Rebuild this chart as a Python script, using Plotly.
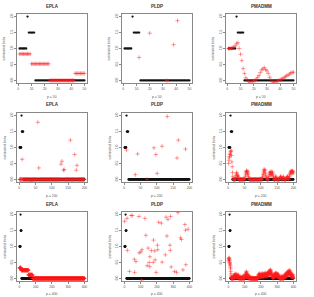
import plotly.graph_objects as go

# ---------------- data ----------------
methods = ["EPLA", "PLDP", "PMADMM"]
p_values = [50, 200, 400]
y_ticks = [0.0, 0.5, 1.0, 1.5, 2.0]
x_ticks = {50: [0, 10, 20, 30, 40, 50], 200: [0, 50, 100, 150, 200], 400: [0, 100, 200, 300, 400]}

# true coefficients (non-zero head, zeros elsewhere)
true_head = [1.0, 1.0, 1.0, 1.0, 1.0, 1.0, 2.0, 1.5, 1.5, 1.5, 1.5, 1.5]

# EPLA, p = 50
epla_50 = [0.83] * 9 + [0.52] * 14 + [0.0] * 19 + [0.22] * 8

# PLDP, p = 50 (only points inside the plotted range)
pldp_50_idx = [12, 20, 33, 38, 41]
pldp_50_val = [0.72, 1.48, 0.00, 1.12, 1.87]

# PMADMM, p = 50
pmadmm_50 = [1.00, 1.00, 1.01, 1.02, 1.05, 1.08, 1.15, 1.18, 1.00, 0.82,
             0.62, 0.37, 0.22, 0.08, 0.02, -0.03, -0.05, -0.04, -0.03, -0.02,
             0.00, 0.04, 0.10, 0.16, 0.25, 0.33, 0.36, 0.40, 0.34, 0.30,
             0.22, 0.10, 0.02, -0.04, -0.05, -0.05, -0.03, -0.02, 0.00, 0.02,
             0.04, 0.06, 0.09, 0.12, 0.15, 0.17, 0.20, 0.23, 0.25, 0.26]

# EPLA, p = 200 (non-zero estimates; all others are 0)
epla_200_idx = [9, 37, 57, 60, 128, 131, 136, 138, 157, 170, 175, 177]
epla_200_val = [0.63, -0.05, 1.79, 0.36, 0.48, 0.57, 0.29, 0.31, 1.23, 0.78, 0.29, 0.44]

# PLDP, p = 200 (only points inside the plotted range)
pldp_200_idx = [7, 34, 41, 70, 91, 97, 101, 116, 132, 162, 166, 188]
pldp_200_val = [0.92, 0.15, 0.80, 0.01, 0.99, 0.78, 0.19, 1.04, 1.97, 0.67, 1.23, 0.95]

# PMADMM, p = 200
pmadmm_200 = [
    0.50, 0.60, 0.68, 0.72, 0.78, 0.80, 0.86, 0.88, 0.90, 0.75, 0.55, 0.40, 0.22, 0.10, 0.04, 0.00, -0.02, 0.00, 0.01, 0.00,
    0.00, 0.02, 0.06, 0.12, 0.18, 0.22, 0.16, 0.10, 0.05, 0.12, 0.08, 0.03, 0.00, -0.02, 0.00, 0.00, 0.00, 0.00, 0.01, 0.00,
    0.00, 0.00, 0.00, 0.00, 0.00, 0.02, 0.00, 0.00, 0.00, 0.00, 0.03, 0.08, 0.14, 0.20, 0.25, 0.28, 0.24, 0.22, 0.15, 0.26,
    0.18, 0.10, 0.05, 0.02, 0.00, 0.00, -0.01, 0.00, 0.00, 0.00, 0.00, 0.00, 0.00, 0.00, 0.00, 0.00, 0.00, 0.00, 0.00, 0.00,
    0.00, 0.00, 0.00, 0.01, 0.00, 0.00, 0.00, 0.00, 0.00, 0.00, 0.00, 0.00, 0.00, 0.00, 0.00, 0.00, 0.02, 0.00, 0.00, 0.00,
    0.00, 0.00, 0.00, 0.03, 0.06, 0.10, 0.15, 0.20, 0.26, 0.32, 0.28, 0.22, 0.30, 0.18, 0.12, 0.08, 0.05, 0.03, 0.00, 0.00,
    0.00, 0.00, 0.02, 0.05, 0.10, 0.15, 0.20, 0.24, 0.20, 0.15, 0.22, 0.25, 0.18, 0.12, 0.20, 0.23, 0.15, 0.08, 0.04, 0.00,
    0.00, -0.02, 0.00, 0.03, 0.07, 0.10, 0.06, 0.02, 0.00, 0.00, 0.00, 0.00, 0.00, 0.00, 0.00, 0.00, 0.00, 0.02, 0.05, 0.08,
    0.10, 0.07, 0.04, 0.02, 0.00, 0.00, 0.03, 0.06, 0.09, 0.05, 0.02, 0.00, 0.00, 0.00, 0.00, 0.00, 0.00, 0.02, 0.04, 0.06,
    0.08, 0.10, 0.07, 0.04, 0.02, 0.00, 0.05, 0.10, 0.15, 0.18, 0.21, 0.24, 0.26, 0.27, 0.22, 0.18, 0.25, 0.27, 0.24, 0.20]

# EPLA, p = 400
epla_400 = [0.33] * 10 + [0.26] * 45 + [0.11] * 25 + [0.0] * 320

# PLDP, p = 400 (only points inside the plotted range)
pldp_400_idx = [1, 16, 41, 49, 89, 126, 211, 227, 256, 268, 284, 329, 372, 392, 376,
                132, 262, 179, 345, 351, 203, 280, 18, 108, 101, 91, 146, 166, 187, 205,
                282, 252, 157, 61, 71, 189, 177, 232, 152, 140, 156, 288, 378, 31, 63,
                195, 309, 321, 360, 106]
pldp_400_val = [1.79, 1.88, 1.97, 1.97, 1.94, 1.88, 1.76, 1.73, 1.92, 1.85, 1.94, 2.06, 1.69, 1.54, 1.51,
                1.35, 1.33, 1.20, 1.27, 1.22, 1.04, 1.04, 0.88, 0.90, 0.83, 0.80, 0.95, 0.87, 0.86, 0.90,
                0.88, 0.74, 0.68, 0.60, 0.53, 0.58, 0.50, 0.51, 0.50, 0.40, 0.37, 0.36, 0.43, 0.22, 0.19,
                0.19, 0.22, 0.19, 0.27, -0.05]

# PMADMM, p = 400
pmadmm_400 = [
    0.55, 0.60, 0.63, 0.65, 0.62, 0.58, 0.55, 0.50, 0.47, 0.44, 0.40, 0.35, 0.30, 0.22, 0.15, 0.08, 0.04, 0.02, 0.00, 0.00,
    0.00, 0.00, -0.02, 0.00, 0.03, 0.06, 0.02, 0.00, 0.00, 0.05, 0.09, 0.06, 0.03, 0.00, 0.00, 0.02, 0.06, 0.10, 0.08, 0.12,
    0.15, 0.10, 0.06, 0.12, 0.09, 0.04, 0.00, 0.03, 0.07, 0.11, 0.14, 0.08, 0.05, 0.10, 0.06, 0.03, 0.00, 0.02, 0.05, 0.09,
    0.12, 0.07, 0.04, 0.00, 0.00, 0.03, 0.06, 0.02, 0.00, 0.00, 0.00, 0.00, 0.02, 0.05, 0.03, 0.00, 0.00, 0.00, 0.00, 0.00,
    0.00, 0.00, 0.02, 0.04, 0.07, 0.05, 0.02, 0.00, 0.00, 0.00, 0.00, 0.00, 0.03, 0.06, 0.09, 0.05, 0.02, 0.00, 0.00, 0.00,
    0.02, 0.05, 0.08, 0.12, 0.10, 0.06, 0.14, 0.18, 0.12, 0.22, 0.16, 0.10, 0.20, 0.14, 0.08, 0.05, 0.12, 0.09, 0.04, 0.00,
    0.03, 0.07, 0.10, 0.05, 0.02, 0.00, 0.00, 0.04, 0.08, 0.06, 0.02, 0.00, 0.00, 0.00, 0.00, 0.00, 0.00, 0.03, 0.00, 0.00,
    0.00, 0.00, 0.00, 0.00, 0.00, 0.00, 0.02, 0.00, 0.00, 0.00, 0.00, 0.00, 0.00, 0.00, 0.00, -0.02, 0.00, 0.00, 0.00, 0.00,
    0.00, 0.00, 0.00, 0.00, 0.00, 0.00, 0.00, 0.00, 0.00, 0.00, 0.00, 0.00, 0.00, 0.00, 0.00, 0.00, 0.00, 0.00, 0.00, 0.00,
    0.00, 0.02, 0.05, 0.08, 0.12, 0.06, 0.10, 0.14, 0.09, 0.05, 0.12, 0.16, 0.10, 0.07, 0.13, 0.08, 0.04, 0.10, 0.06, 0.03,
    0.08, 0.12, 0.15, 0.09, 0.05, 0.11, 0.07, 0.03, 0.09, 0.13, 0.17, 0.10, 0.06, 0.12, 0.08, 0.04, 0.10, 0.14, 0.09, 0.05,
    0.11, 0.15, 0.10, 0.06, 0.13, 0.18, 0.12, 0.08, 0.15, 0.10, 0.06, 0.12, 0.16, 0.11, 0.07, 0.13, 0.09, 0.05, 0.10, 0.14,
    0.18, 0.12, 0.08, 0.15, 0.20, 0.14, 0.10, 0.17, 0.22, 0.16, 0.12, 0.19, 0.24, 0.18, 0.13, 0.20, 0.25, 0.28, 0.22, 0.17,
    0.26, 0.21, 0.15, 0.10, 0.18, 0.12, 0.07, 0.14, 0.09, 0.05, 0.02, 0.06, 0.10, 0.07, 0.03, 0.00, 0.04, 0.08, 0.05, 0.02,
    0.06, 0.10, 0.14, 0.09, 0.05, 0.12, 0.16, 0.11, 0.07, 0.13, 0.18, 0.12, 0.08, 0.15, 0.10, 0.06, 0.12, 0.17, 0.11, 0.07,
    0.13, 0.09, 0.05, 0.10, 0.14, 0.08, 0.04, 0.09, 0.12, 0.07, 0.03, 0.00, 0.02, 0.05, 0.03, 0.00, 0.00, 0.00, 0.02, 0.00,
    0.00, 0.00, 0.03, 0.06, 0.04, 0.00, 0.00, 0.00, 0.02, 0.05, 0.08, 0.05, 0.02, 0.00, 0.00, 0.00, 0.00, 0.03, 0.00, 0.00,
    0.02, 0.05, 0.09, 0.06, 0.03, 0.08, 0.12, 0.07, 0.04, 0.10, 0.14, 0.09, 0.05, 0.11, 0.16, 0.10, 0.06, 0.13, 0.18, 0.12,
    0.08, 0.15, 0.20, 0.14, 0.10, 0.17, 0.22, 0.15, 0.11, 0.18, 0.24, 0.17, 0.12, 0.20, 0.26, 0.19, 0.14, 0.21, 0.25, 0.18,
    0.13, 0.20, 0.16, 0.10, 0.06, 0.12, 0.08, 0.04, 0.10, 0.14, 0.09, 0.05, 0.11, 0.07, 0.03, 0.08, 0.12, 0.06, 0.02, 0.00]


def sparse_to_full(p, idx, val):
    out = [0.0] * p
    for i, v in zip(idx, val):
        out[i - 1] = v
    return out


def truth(p):
    return true_head + [0.0] * (p - len(true_head))


# estimates per (row, col): (x list, y list)
estimates = {
    (0, 0): (list(range(1, 51)), epla_50),
    (0, 1): (pldp_50_idx, pldp_50_val),
    (0, 2): (list(range(1, 51)), pmadmm_50),
    (1, 0): (list(range(1, 201)), sparse_to_full(200, epla_200_idx, epla_200_val)),
    (1, 1): (pldp_200_idx, pldp_200_val),
    (1, 2): (list(range(1, 201)), pmadmm_200),
    (2, 0): (list(range(1, 401)), epla_400),
    (2, 1): (pldp_400_idx, pldp_400_val),
    (2, 2): (list(range(1, 401)), pmadmm_400),
}

# ---------------- layout ----------------
W, H = 314, 297
col_px = [(17, 87), (122, 192), (226, 296)]
row_px = [(14, 83), (113, 182), (212, 281)]
col_off = [0, 105, 209]
title_y = [6, 104.5, 204]
xlab_y = [97, 196, 293.5]

FRAME = "#888888"
TEXT = "#555555"
FONT = "Liberation Sans, Arial, sans-serif"
RED = "rgba(255,30,30,0.75)"

fig = go.Figure()
layout = dict(width=W, height=H, margin=dict(l=0, r=0, t=0, b=0),
              paper_bgcolor="white", plot_bgcolor="white", showlegend=False,
              font=dict(family=FONT, color=TEXT, size=4))
annotations = []

k = 0
for r, p in enumerate(p_values):
    for c, m in enumerate(methods):
        k += 1
        xa = "x" if k == 1 else f"x{k}"
        ya = "y" if k == 1 else f"y{k}"
        t = truth(p)
        fig.add_trace(go.Scatter(x=list(range(1, p + 1)), y=t, mode="markers",
                                 marker=dict(symbol="circle", size=2.3, color="#111111", line=dict(width=0)),
                                 xaxis=xa, yaxis=ya, hoverinfo="skip"))
        ex, ey = estimates[(r, c)]
        fig.add_trace(go.Scatter(x=ex, y=ey, mode="markers",
                                 marker=dict(symbol="cross-thin", size=3.0, color=RED,
                                             line=dict(width=0.6, color=RED)),
                                 xaxis=xa, yaxis=ya, hoverinfo="skip"))
        x0, x1 = col_px[c]
        y0, y1 = row_px[r]
        pad = 0.04 * (p - 1)
        axx = dict(domain=[x0 / W, x1 / W], anchor=ya, range=[1 - pad, p + pad],
                   tickmode="array", tickvals=x_ticks[p], ticktext=[str(v) for v in x_ticks[p]],
                   showgrid=False, zeroline=False, showline=True, mirror=True,
                   linecolor=FRAME, linewidth=0.8, ticks="outside", ticklen=2, tickwidth=0.6,
                   tickcolor=FRAME, tickfont=dict(size=3.3, color=TEXT, family=FONT))
        axy = dict(domain=[1 - y1 / H, 1 - y0 / H], anchor=xa, range=[-0.08, 2.08],
                   tickmode="array", tickvals=y_ticks, ticktext=[f"{v:.1f}" for v in y_ticks],
                   showgrid=False, zeroline=False, showline=True, mirror=True,
                   linecolor=FRAME, linewidth=0.8, ticks="outside", ticklen=2, tickwidth=0.6,
                   tickcolor=FRAME, tickangle=-90, tickfont=dict(size=3.3, color=TEXT, family=FONT))
        layout["xaxis" if k == 1 else f"xaxis{k}"] = axx
        layout["yaxis" if k == 1 else f"yaxis{k}"] = axy
        cx = (x0 + x1) / 2 / W
        annotations.append(dict(text=f"<b>{m}</b>", x=cx, y=1 - title_y[r] / H, xref="paper", yref="paper",
                                showarrow=False, xanchor="center", yanchor="middle",
                                font=dict(size=4.5, color="#333333", family=FONT)))
        annotations.append(dict(text=f"p = {p}", x=cx, y=1 - xlab_y[r] / H, xref="paper", yref="paper",
                                showarrow=False, xanchor="center", yanchor="middle", borderpad=0,
                                font=dict(size=3.4, color=TEXT, family=FONT)))
        annotations.append(dict(text="estimated beta", x=(col_off[c] + 4) / W, y=1 - (y0 + y1) / 2 / H,
                                xref="paper", yref="paper", textangle=-90, showarrow=False,
                                xanchor="center", yanchor="middle",
                                font=dict(size=3.6, color=TEXT, family=FONT)))

layout["annotations"] = annotations
fig.update_layout(**layout)
fig.write_html("out.html", config={"displayModeBar": False},
               post_script="document.body.style.margin='0px';document.body.style.overflow='hidden';")
